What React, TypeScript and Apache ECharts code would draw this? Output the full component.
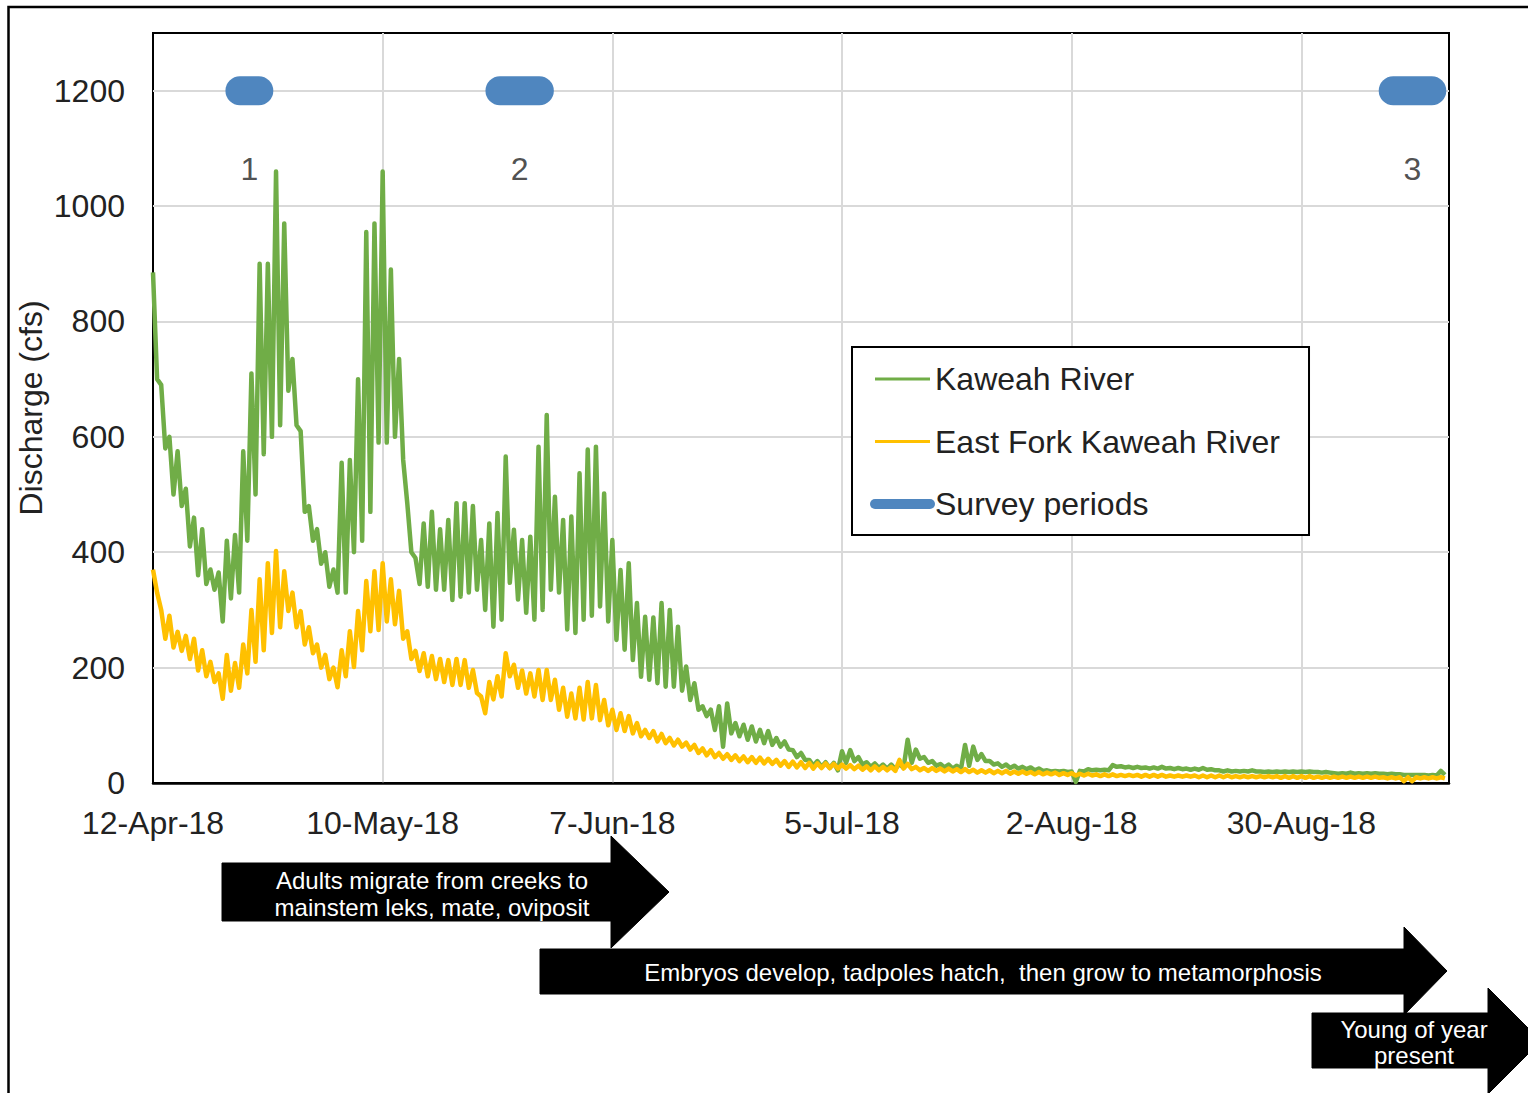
import React, { useEffect, useRef } from 'react';
import * as echarts from 'echarts';

// ---------- data (days counted from 12-Apr-18) ----------
const tickLabels = ['12-Apr-18', '10-May-18', '7-Jun-18', '5-Jul-18', '2-Aug-18', '30-Aug-18'];
const TICK_DAYS = 28;
const LAST_DAY = 158;

// daily high (first half of day) and low (second half) discharge, cfs
const kaweahPeak = [
  885, 690, 600, 575, 510, 460, 440, 370, 365, 420,
  430, 575, 710, 900, 900, 1060, 970, 735, 610, 480,
  440, 400, 370, 555, 560, 700, 955, 970, 1060, 890,
  735, 485, 390, 450, 470, 440, 456, 485, 485, 480,
  421, 450, 468, 566, 439, 421, 427, 583, 638, 496,
  456, 462, 537, 578, 583, 502, 421, 369, 381, 312,
  288, 287, 312, 300, 271, 202, 173, 133, 127, 133,
  138, 104, 101, 98, 92, 90, 78, 72, 57, 52,
  40, 38, 36, 35, 55, 57, 45, 36, 34, 32,
  32, 33, 75, 58, 45, 38, 33, 32, 30, 66,
  63, 50, 38, 34, 32, 30, 28, 27, 25, 22,
  21, 21, 20, 21, 24, 23, 23, 31, 29, 28,
  28, 27, 27, 28, 26, 26, 25, 25, 26, 24,
  22, 22, 21, 21, 22, 20, 20, 20, 20, 20,
  20, 20, 19, 19, 17, 17, 18, 17, 17, 17,
  16, 16, 15, 14, 14, 14, 14, 21,
];
const kaweahTrough = [
  700, 580, 500, 480, 410, 360, 345, 335, 280, 320,
  330, 420, 500, 570, 600, 620, 680, 620, 470, 420,
  380, 340, 330, 330, 400, 420, 470, 590, 590, 600,
  560, 400, 345, 340, 335, 335, 317, 323, 330, 335,
  300, 271, 283, 347, 318, 295, 283, 300, 335, 330,
  266, 260, 283, 290, 306, 280, 248, 231, 213, 184,
  179, 173, 167, 167, 160, 144, 127, 116, 92, 63,
  86, 81, 75, 72, 69, 66, 63, 58, 45, 40,
  30, 28, 26, 22, 35, 38, 32, 28, 26, 25,
  24, 26, 35, 42, 35, 30, 27, 25, 24, 30,
  40, 38, 32, 28, 26, 25, 24, 22, 21, 20,
  20, 19, 2, 20, 22, 22, 22, 28, 27, 26,
  26, 25, 25, 25, 24, 24, 23, 23, 23, 22,
  20, 20, 20, 20, 20, 19, 19, 19, 19, 19,
  19, 19, 18, 18, 16, 16, 16, 16, 16, 16,
  15, 15, 14, 14, 14, 13, 13, 14,
];
const eastForkPeak = [
  370, 300, 290, 262, 255, 250, 230, 210, 190, 222,
  208, 240, 300, 353, 381, 402, 367, 330, 298, 270,
  240, 222, 200, 230, 263, 298, 350, 367, 381, 353,
  333, 263, 229, 225, 220, 215, 213, 215, 213, 196,
  150, 175, 185, 225, 205, 195, 190, 196, 196, 179,
  165, 155, 165, 175, 170, 144, 127, 121, 116, 104,
  92, 90, 85, 78, 75, 70, 66, 60, 57, 52,
  50, 48, 46, 45, 44, 42, 40, 38, 37, 36,
  35, 34, 34, 33, 32, 31, 30, 29, 29, 28,
  28, 40, 33, 28, 26, 26, 25, 25, 24, 24,
  23, 22, 22, 21, 21, 20, 20, 19, 19, 18,
  18, 17, 17, 16, 16, 15, 15, 15, 14, 14,
  14, 14, 14, 14, 13, 13, 13, 13, 13, 13,
  13, 13, 12, 12, 12, 12, 12, 12, 12, 12,
  12, 12, 11, 11, 11, 11, 11, 11, 11, 11,
  10, 10, 10, 10, 10, 10, 10, 10,
];
const eastForkTrough = [
  330, 250, 235, 229, 215, 195, 185, 175, 146, 160,
  165, 190, 210, 230, 260, 270, 298, 270, 240, 225,
  200, 180, 166, 185, 201, 230, 263, 265, 280, 275,
  250, 215, 194, 185, 180, 175, 170, 170, 165, 156,
  121, 145, 150, 185, 165, 155, 150, 144, 144, 127,
  115, 112, 110, 112, 109, 100, 92, 90, 86, 81,
  78, 72, 69, 65, 63, 58, 52, 48, 45, 42,
  40, 38, 36, 35, 34, 33, 30, 28, 27, 26,
  25, 26, 26, 25, 25, 24, 23, 22, 22, 22,
  21, 25, 24, 22, 21, 21, 20, 20, 19, 19,
  18, 18, 17, 17, 16, 16, 16, 15, 15, 15,
  14, 14, 13, 13, 13, 12, 12, 12, 12, 12,
  11, 11, 11, 11, 11, 11, 11, 10, 10, 10,
  10, 10, 10, 10, 10, 10, 10, 9, 9, 9,
  9, 9, 9, 9, 9, 9, 9, 9, 9, 9,
  8, 8, 3, 3, 8, 8, 8, 8,
];

const surveyStart = [10.6, 42.3, 151.2];
const surveyEnd = [12.9, 47.1, 155.9];
const surveyLevel = 1200;
const surveyLabels = ['1', '2', '3'];
const surveyLabelLevel = 1065;

// ---------- style ----------
const FONT = '"Liberation Sans", Arial, Helvetica, sans-serif';
const GREEN = '#70AD47';
const YELLOW = '#FFC000';
const BLUE = '#4F86BF';
const TEXT = '#222222';
const GRID = '#D9D9D9';

function buildSeries(peaks: number[], troughs: number[]) {
  const pts: number[][] = [];
  peaks.forEach((p, d) => {
    pts.push([d, p]);
    pts.push([d + 0.5, troughs[d]]);
  });
  return pts;
}

function arrow(points: number[][]) {
  return {
    type: 'polygon',
    shape: { points },
    style: { fill: '#000', stroke: '#000', lineWidth: 1 },
    z: 50,
    silent: true,
  };
}

function arrowText(text: string, x: number, y: number, lineHeight: number) {
  return {
    type: 'text',
    x,
    y,
    z: 51,
    silent: true,
    style: {
      text,
      fill: '#fff',
      fontSize: 24,
      fontFamily: FONT,
      lineHeight,
      align: 'center',
      verticalAlign: 'middle',
    },
  };
}

export default function App() {
  const ref = useRef<HTMLDivElement>(null);

  useEffect(() => {
    if (!ref.current) return;
    const chart = echarts.init(ref.current, null, { renderer: 'svg' });

    const surveySeries = surveyStart.map((s, i) => ({
      name: 'Survey periods',
      type: 'line',
      symbol: 'none',
      silent: true,
      data: [
        [s, surveyLevel],
        [surveyEnd[i], surveyLevel],
      ],
      lineStyle: { color: BLUE, width: 29, cap: 'round' },
      itemStyle: { color: BLUE },
      z: 4,
    }));

    const option: any = {
      animation: false,
      backgroundColor: '#fff',
      textStyle: { fontFamily: FONT },
      grid: {
        left: 153,
        top: 33,
        width: 1296,
        height: 750,
        show: true,
        borderColor: '#000',
        borderWidth: 2,
        backgroundColor: 'transparent',
      },
      xAxis: {
        type: 'value',
        min: 0,
        max: LAST_DAY,
        interval: TICK_DAYS,
        axisLine: { show: true, onZero: false, lineStyle: { color: '#000', width: 2.5 } },
        axisTick: { show: false },
        splitLine: {
          show: true,
          showMinLine: false,
          showMaxLine: false,
          lineStyle: { color: GRID, width: 2 },
        },
        axisLabel: {
          showMaxLabel: false,
          margin: 24,
          fontSize: 32,
          color: TEXT,
          fontFamily: FONT,
          formatter: (v: number) => tickLabels[Math.round(v / TICK_DAYS)] ?? '',
        },
      },
      yAxis: {
        type: 'value',
        min: 0,
        max: 1300,
        interval: 200,
        axisLine: { show: false },
        axisTick: { show: false },
        splitLine: {
          show: true,
          showMinLine: false,
          showMaxLine: false,
          lineStyle: { color: GRID, width: 2 },
        },
        axisLabel: {
          showMaxLabel: false,
          margin: 28,
          fontSize: 32,
          color: TEXT,
          fontFamily: FONT,
          formatter: (v: number) => String(v),
        },
      },
      legend: {
        orient: 'vertical',
        left: 852,
        top: 347,
        padding: [14, 29, 13, 18],
        itemGap: 26.5,
        itemWidth: 55,
        itemHeight: 14,
        borderColor: '#000',
        borderWidth: 2,
        backgroundColor: '#fff',
        selectedMode: false,
        textStyle: { fontSize: 32, color: TEXT, fontFamily: FONT, lineHeight: 36 },
        data: [
          { name: 'Kaweah River', itemStyle: { opacity: 0 }, lineStyle: { width: 3 } },
          { name: 'East Fork Kaweah River', itemStyle: { opacity: 0 }, lineStyle: { width: 3 } },
          { name: 'Survey periods', itemStyle: { opacity: 0 }, lineStyle: { width: 10, cap: 'round' } },
        ],
      },
      series: [
        {
          name: 'Kaweah River',
          type: 'line',
          symbol: 'none',
          silent: true,
          data: buildSeries(kaweahPeak, kaweahTrough),
          lineStyle: { color: GREEN, width: 4.5, join: 'round' },
          itemStyle: { color: GREEN },
          z: 2,
        },
        {
          name: 'East Fork Kaweah River',
          type: 'line',
          symbol: 'none',
          silent: true,
          data: buildSeries(eastForkPeak, eastForkTrough),
          lineStyle: { color: YELLOW, width: 4.5, join: 'round' },
          itemStyle: { color: YELLOW },
          z: 3,
        },
        ...surveySeries,
        {
          name: 'survey labels',
          type: 'scatter',
          silent: true,
          symbol: 'circle',
          symbolSize: 1,
          itemStyle: { color: 'transparent' },
          data: surveyLabels.map((t, i) => ({
            value: [(surveyStart[i] + surveyEnd[i]) / 2, surveyLabelLevel],
            label: { formatter: t },
          })),
          label: {
            show: true,
            position: 'inside',
            fontSize: 32,
            color: TEXT,
            fontFamily: FONT,
          },
          z: 6,
        },
      ],
      graphic: {
        elements: [
          {
            type: 'rect',
            shape: { x: 8.5, y: 7, width: 1600, height: 1200 },
            style: { fill: 'none', stroke: '#000', lineWidth: 2.5 },
            silent: true,
            z: 60,
          },
          {
            type: 'text',
            x: 31,
            y: 408,
            rotation: Math.PI / 2,
            silent: true,
            style: {
              text: 'Discharge (cfs)',
              fill: TEXT,
              fontSize: 32,
              fontFamily: FONT,
              align: 'center',
              verticalAlign: 'middle',
            },
          },
          arrow([[222, 863], [611, 863], [611, 836], [669, 892], [611, 948], [611, 921], [222, 921]]),
          arrowText('Adults migrate from creeks to\nmainstem leks, mate, oviposit', 432, 894, 27),
          arrow([[540, 949], [1404, 949], [1404, 927], [1447, 971], [1404, 1015], [1404, 994], [540, 994]]),
          arrowText('Embryos develop, tadpoles hatch,  then grow to metamorphosis', 983, 972, 27),
          arrow([[1312, 1013], [1488, 1013], [1488, 988], [1541, 1041], [1488, 1094], [1488, 1068], [1312, 1068]]),
          arrowText('Young of year\npresent', 1414, 1042, 26),
        ],
      },
    };

    chart.setOption(option);
    return () => chart.dispose();
  }, []);

  return (
    <div
      ref={ref}
      style={{ position: 'absolute', left: 0, top: 0, width: 1528, height: 1093 }}
    />
  );
}
